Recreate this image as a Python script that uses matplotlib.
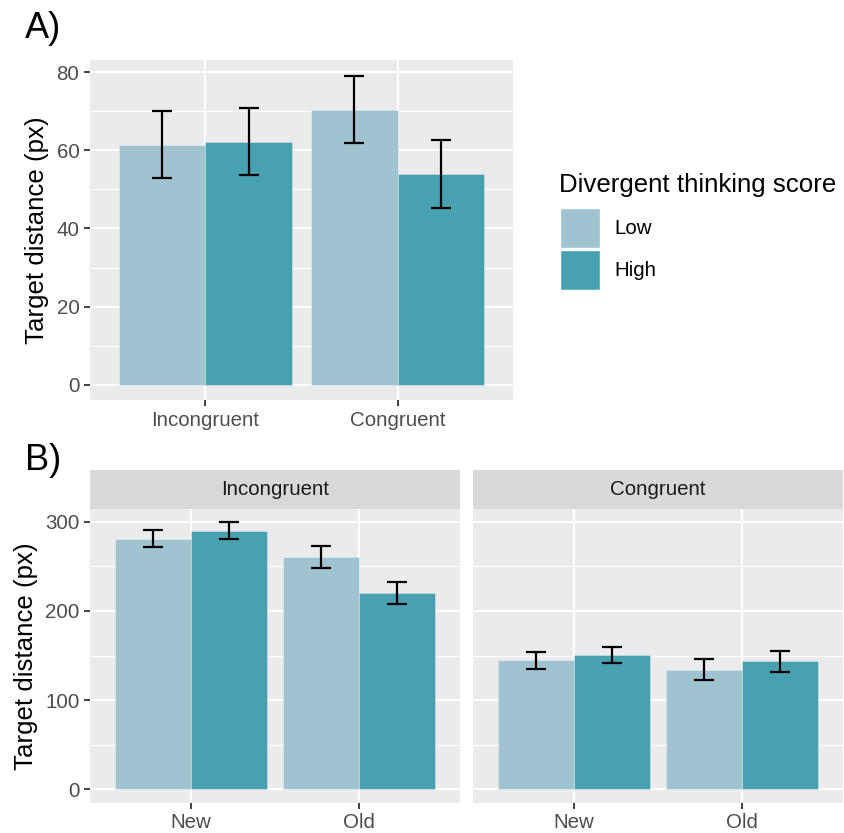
import matplotlib
matplotlib.use("Agg")
import matplotlib.pyplot as plt
from matplotlib.patches import Rectangle
from matplotlib.ticker import MultipleLocator

plt.rcParams['font.family'] = ['Liberation Sans', 'DejaVu Sans']

# ---- data ----
groups = ['Low', 'High']
colours = ['#9FC3D1', '#48A1B0']

congruency = ['Incongruent', 'Congruent']
a_mean = {'Low': [61.5, 70.4], 'High': [62.3, 53.9]}
a_lo = {'Low': [53.0, 61.8], 'High': [53.8, 45.2]}
a_hi = {'Low': [70.0, 79.2], 'High': [71.0, 62.7]}

item_type = ['New', 'Old']
b_mean = {'Incongruent': {'Low': [281.0, 260.4], 'High': [289.6, 220.0]},
          'Congruent': {'Low': [144.6, 134.1], 'High': [150.2, 143.5]}}
b_lo = {'Incongruent': {'Low': [271.7, 248.5], 'High': [280.2, 207.4]},
        'Congruent': {'Low': [135.2, 122.2], 'High': [141.2, 131.0]}}
b_hi = {'Incongruent': {'Low': [291.0, 272.7], 'High': [299.3, 233.0]},
        'Congruent': {'Low': [153.9, 146.0], 'High': [159.9, 155.0]}}

W, H = 844, 833
fig = plt.figure(figsize=(W / 100, H / 100), dpi=100)

def px_axes(x0, y0, x1, y1):
    return fig.add_axes([x0 / W, 1 - y1 / H, (x1 - x0) / W, (y1 - y0) / H])

TICK = 14.8
TITLE = 18.6

def gg_style(ax):
    ax.set_facecolor('#EBEBEB')
    for s in ax.spines.values():
        s.set_visible(False)
    ax.grid(True, which='major', color='white', lw=1.5)
    ax.grid(True, which='minor', axis='y', color='white', lw=0.8)
    ax.set_axisbelow(True)
    ax.tick_params(axis='both', which='major', length=4.6, width=1.3, color='#333333',
                   labelsize=TICK, labelcolor='#4D4D4D', pad=3)
    ax.tick_params(axis='both', which='minor', length=0)

def draw_bars(ax, cats, means, los, his):
    xs = range(len(cats))
    for k, g in enumerate(groups):
        off = -0.225 if k == 0 else 0.225
        pos = [x + off for x in xs]
        ax.bar(pos, means[g], width=0.45, color=colours[k],
               edgecolor=(1, 1, 1, 0.35), linewidth=0.6, zorder=2)
        err = [[m - l for m, l in zip(means[g], los[g])],
               [h - m for m, h in zip(means[g], his[g])]]
        ax.errorbar(pos, means[g], yerr=err, fmt='none', ecolor='black',
                    elinewidth=1.6, capsize=7, capthick=1.6, zorder=3)
    ax.set_xticks(list(xs))
    ax.set_xticklabels(cats)
    ax.set_xlim(-0.6, len(cats) - 0.4)
    ax.xaxis.grid(True, color='white', lw=1.5)

# ---- panel A ----
axA = px_axes(90, 60, 513, 400)
gg_style(axA)
draw_bars(axA, congruency, a_mean, a_lo, a_hi)
axA.set_ylim(-3.97, 83.2)
axA.yaxis.set_major_locator(MultipleLocator(20))
axA.yaxis.set_minor_locator(MultipleLocator(10))
axA.set_ylabel('Target distance (px)', fontsize=TITLE, labelpad=5)
fig.text(25 / W, 1 - 28 / H, 'A)', fontsize=26, va='center', ha='left')

# legend (drawn like ggplot's guide)
fig.text(559 / W, 1 - 185 / H, 'Divergent thinking score', fontsize=TITLE,
         va='center', ha='left')
for k, g in enumerate(groups):
    top = 208 + k * 42
    fig.add_artist(Rectangle((560 / W, 1 - (top + 40) / H), 40 / W, 40 / H,
                             transform=fig.transFigure, facecolor=colours[k],
                             edgecolor='white', linewidth=1.0))
    fig.text(614 / W, 1 - (top + 20) / H, g, fontsize=TICK, va='center', ha='left')

# ---- panel B ----
facets = [('Incongruent', 90, 460), ('Congruent', 473, 843)]
for i, (name, x0, x1) in enumerate(facets):
    ax = px_axes(x0, 509, x1, 802.7)
    gg_style(ax)
    draw_bars(ax, item_type, b_mean[name], b_lo[name], b_hi[name])
    ax.set_ylim(-15, 314.3)
    ax.yaxis.set_major_locator(MultipleLocator(100))
    ax.yaxis.set_minor_locator(MultipleLocator(50))
    if i == 0:
        ax.set_ylabel('Target distance (px)', fontsize=TITLE, labelpad=5)
    else:
        ax.tick_params(axis='y', which='both', left=False, labelleft=False)
    strip = px_axes(x0, 470, x1, 509)
    strip.set_facecolor('#D9D9D9')
    strip.set_xticks([])
    strip.set_yticks([])
    for s in strip.spines.values():
        s.set_visible(False)
    strip.text(0.5, 0.5, name, transform=strip.transAxes, ha='center', va='center',
               fontsize=TICK, color='#1A1A1A')
fig.text(25 / W, 1 - 461 / H, 'B)', fontsize=26, va='center', ha='left')

fig.savefig('out.png', dpi=100)
